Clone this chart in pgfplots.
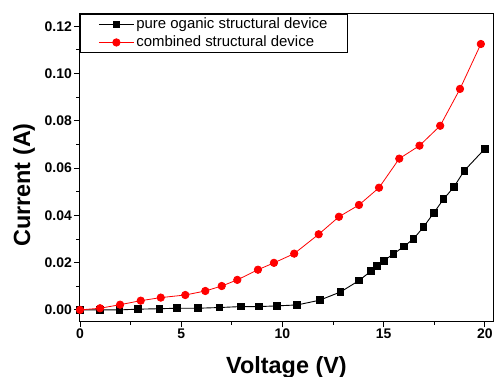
\documentclass[border=0pt]{standalone}
\usepackage{fontspec}
\setmainfont{Liberation Sans}
\usepackage{pgfplots}
\pgfplotsset{compat=1.18}
\begin{document}
\begin{tikzpicture}
\useasboundingbox (-80bp,-56bp) rectangle (415bp,321bp);
\begin{axis}[
  at={(0,0)}, anchor=south west,
  scale only axis,
  width=413bp, height=307bp,
  xmin=0, xmax=20.4,
  ymin=-0.0047, ymax=0.1252,
  xtick={0,5,10,15,20},
  minor xtick={2.5,7.5,12.5,17.5},
  ytick={0,0.02,0.04,0.06,0.08,0.10,0.12},
  minor ytick={0.01,0.03,0.05,0.07,0.09,0.11},
  /pgf/number format/assume math mode=true,
  ticklabel style={font=\bfseries\fontsize{14}{15}\selectfont},
  xticklabel style={inner sep=2bp},
  yticklabel style={inner sep=2bp, /pgf/number format/.cd,fixed,fixed zerofill,precision=2},
  tick align=outside,
  xtick pos=bottom, ytick pos=left,
  major tick length=6bp, minor tick length=3.5bp,
  tick style={black, line width=0.9bp},
  axis line style={line width=1bp},
  xlabel={Voltage (V)}, ylabel={Current (A)},
  label style={font=\bfseries\fontsize{23.5}{25}\selectfont},
  xlabel style={at={(axis description cs:0.5,-0.1694)}, anchor=base, inner sep=0pt},
  ylabel style={at={(axis description cs:-0.1208,0.443)}, anchor=base, inner sep=0pt},
  legend style={at={(axis description cs:0,1)}, anchor=north west, draw=black, line width=0.9bp,
    font=\fontsize{15}{16}\selectfont, inner xsep=18bp, inner ysep=2.5bp, row sep=3bp,
    nodes={inner xsep=2bp, inner ysep=1bp, text height=11bp, text depth=2bp},
    legend cell align=left},
  legend image code/.code={%
    \draw[mark repeat=2,mark phase=2] plot coordinates {(0bp,0bp) (17.5bp,0bp) (35bp,0bp)};},
]
\addplot[black, line width=0.9bp, mark=square*, mark size=3.3bp, mark options={solid}] coordinates {
(0,0) (1,0) (1.94,0) (2.85,0.0003) (3.92,0.0005) (4.8,0.0007) (5.83,0.0007)
(6.88,0.001) (7.94,0.0014) (8.85,0.0014) (9.73,0.0017) (10.73,0.0021)
(11.84,0.0041) (12.87,0.0076) (13.78,0.0124) (14.37,0.0164) (14.68,0.0187)
(15.0,0.0208) (15.49,0.0237) (15.99,0.0268) (16.48,0.0301) (16.97,0.0351)
(17.47,0.0410) (17.96,0.0469) (18.47,0.0520) (18.98,0.0589) (19.99,0.0681)
};
\addlegendentry{pure oganic structural device}
\addplot[red, line width=0.8bp, mark=*, mark size=3.7bp] coordinates {
(0,0) (0.99,0.0007) (1.98,0.0022) (3.0,0.0039) (3.99,0.0052) (5.2,0.0063)
(6.19,0.0080) (7.0,0.0101) (7.77,0.0127) (8.79,0.0170) (9.58,0.0199)
(10.58,0.0238) (11.79,0.0320) (12.79,0.0394) (13.78,0.0444) (14.77,0.0517)
(15.77,0.0640) (16.77,0.0695) (17.79,0.0779) (18.77,0.0935) (19.8,0.1125)
};
\addlegendentry{combined structural device}
\end{axis}
\end{tikzpicture}
\end{document}
